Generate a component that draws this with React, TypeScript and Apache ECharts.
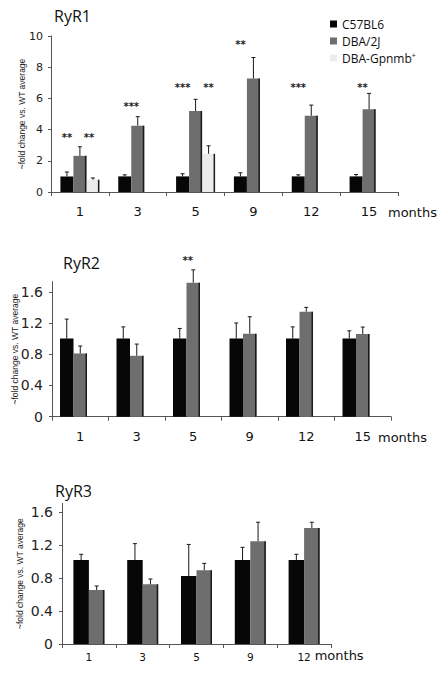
import React, { useEffect, useRef } from 'react';
import * as echarts from 'echarts';

const SERIES_NAMES = ['C57BL6', 'DBA/2J', 'DBA-Gpnmb+'];
const COLORS = ['#070707', '#6e6e6e', '#ececec'];

// ---------- RyR1 ----------
const ryr1Months = ['1', '3', '5', '9', '12', '15'];
const ryr1C57 = [1, 1, 1, 1, 1, 1];
const ryr1C57Err = [1.28, 1.1, 1.17, 1.23, 1.1, 1.12];
const ryr1DBA = [2.32, 4.25, 5.19, 7.28, 4.89, 5.3];
const ryr1DBAErr = [2.9, 4.83, 5.94, 8.62, 5.57, 6.32];
const ryr1Gp = [0.79, null, 2.45, null, null, null];
const ryr1GpErr = [0.9, null, 2.96, null, null, null];
const ryr1StarCats = [0, 0, 1, 2, 2, 3, 4, 5];
const ryr1StarSlots = [-1, 0.7, -0.5, -1, 1, -1, -1, -0.5];
const ryr1StarLevels = [3.5, 3.5, 5.45, 6.73, 6.73, 9.47, 6.73, 6.73];
const ryr1StarText = ['**', '**', '***', '***', '**', '**', '***', '**'];

// ---------- RyR2 ----------
const ryr2Months = ['1', '3', '5', '9', '12', '15'];
const ryr2C57 = [1, 1, 1, 1, 1, 1];
const ryr2C57Err = [1.25, 1.15, 1.13, 1.2, 1.15, 1.1];
const ryr2DBA = [0.81, 0.78, 1.716, 1.063, 1.344, 1.059];
const ryr2DBAErr = [0.905, 0.93, 1.88, 1.28, 1.4, 1.148];
const ryr2StarCats = [2];
const ryr2StarSlots = [-0.4];
const ryr2StarLevels = [2.0];
const ryr2StarText = ['**'];

// ---------- RyR3 ----------
const ryr3Months = ['1', '3', '5', '9', '12'];
const ryr3C57 = [1.02, 1.02, 0.826, 1.02, 1.02];
const ryr3C57Err = [1.09, 1.22, 1.21, 1.175, 1.09];
const ryr3DBA = [0.656, 0.725, 0.895, 1.25, 1.41];
const ryr3DBAErr = [0.705, 0.79, 0.98, 1.48, 1.48];

const TICK_FONT = 'DejaVu Sans, Verdana, sans-serif';
const TEXT_FONT = 'Open Sans, Noto Sans, sans-serif';
const AXIS_COLOR = '#555';

type Num = number | null;

function errData(vals: Num[][], errs: Num[][]) {
  const out: number[][] = [];
  vals.forEach((arr, s) => {
    arr.forEach((v, i) => {
      const e = errs[s][i];
      if (v != null && e != null) out.push([i, v, e, s]);
    });
  });
  return out;
}

function makeErrRender(barW: number, nSlots: number) {
  return (params: any, api: any) => {
    const cat = api.value(0);
    const val = api.value(1);
    const err = api.value(2);
    const slot = api.value(3);
    const base = api.coord([cat, 0]);
    const top = api.coord([cat, val]);
    const et = api.coord([cat, err]);
    const cx = base[0] + (slot - (nSlots - 1) / 2) * barW;
    const children: any[] = [
      {
        type: 'line',
        shape: { x1: cx, y1: top[1], x2: cx, y2: et[1] },
        style: { stroke: '#1a1a1a', lineWidth: 1 },
      },
      {
        type: 'line',
        shape: { x1: cx - 2, y1: et[1], x2: cx + 2, y2: et[1] },
        style: { stroke: '#1a1a1a', lineWidth: 1 },
      },
    ];
    if (slot > 0) {
      const ex = cx + barW / 2 - 0.75;
      children.push({
        type: 'line',
        shape: { x1: ex, y1: top[1], x2: ex, y2: base[1] },
        style: { stroke: '#1a1a1a', lineWidth: 1.5 },
      });
    }
    return { type: 'group', children };
  };
}

function makeStarRender(barW: number, texts: string[]) {
  return (params: any, api: any) => {
    const cat = api.value(0);
    const lvl = api.value(1);
    const slot = api.value(2);
    const p = api.coord([cat, lvl]);
    return {
      type: 'text',
      x: p[0] + slot * barW,
      y: p[1],
      style: {
        text: texts[params.dataIndex],
        fontSize: 10,
        fontWeight: 'bold',
        fontFamily: TICK_FONT,
        fill: '#222',
        align: 'center',
        verticalAlign: 'middle',
      },
    };
  };
}

function starData(cats: number[], levels: number[], slots: number[]) {
  return cats.map((c, i) => [c, levels[i], slots[i]]);
}

function dash(arr: Num[]) {
  return arr.map((v) => (v == null ? '-' : v));
}

export default function App() {
  const ref = useRef<HTMLDivElement>(null);

  useEffect(() => {
    if (!ref.current) return;
    const chart = echarts.init(ref.current, undefined, { renderer: 'svg' });

    const yAxisBase = (
      idx: number,
      max: number,
      interval: number,
      fontSize: number,
      margin: number,
      nameGap: number,
      showMax: boolean
    ) => ({
      type: 'value',
      gridIndex: idx,
      min: 0,
      max,
      interval,
      name: '~fold change vs. WT average',
      nameLocation: 'middle',
      nameRotate: 90,
      nameGap,
      nameMoveOverlap: false,
      nameTextStyle: {
        fontFamily: 'Liberation Sans, Arial, sans-serif',
        fontSize: 8.5,
        color: '#222',
      },
      axisLine: { show: true, lineStyle: { color: AXIS_COLOR, width: 1 } },
      axisTick: { show: true, length: 3, lineStyle: { color: AXIS_COLOR } },
      splitLine: { show: false },
      axisLabel: {
        fontFamily: TICK_FONT,
        fontSize,
        color: '#222',
        margin,
        showMaxLabel: showMax,
        formatter: (v: number) => (interval < 1 ? (v === 0 ? '0' : v.toFixed(1)) : String(v)),
      },
    });

    const xAxisBase = (
      idx: number,
      data: string[],
      fontSize: number,
      margin: number,
      nameGap: number,
      namePad: number,
      nameFont: number
    ) => ({
      type: 'category',
      gridIndex: idx,
      data,
      boundaryGap: true,
      axisLine: { show: true, lineStyle: { color: AXIS_COLOR, width: 1 } },
      axisTick: { show: true, length: 4, lineStyle: { color: AXIS_COLOR } },
      axisLabel: { fontFamily: TICK_FONT, fontSize, color: '#111', margin },
      name: 'months',
      nameLocation: 'end',
      nameGap,
      nameTextStyle: {
        fontFamily: TICK_FONT,
        fontSize: nameFont,
        color: '#111',
        align: 'left',
        verticalAlign: 'top',
        padding: [namePad, 0, 0, 0],
      },
    });

    const titleStyle = { fontFamily: TEXT_FONT, fontSize: 16, fontWeight: 'normal', color: '#111' };

    const option: any = {
      animation: false,
      backgroundColor: '#fff',
      title: [
        { text: 'RyR1', left: 54, top: 8, padding: 0, textStyle: titleStyle },
        { text: 'RyR2', left: 63, top: 255, padding: 0, textStyle: titleStyle },
        { text: 'RyR3', left: 55, top: 483, padding: 0, textStyle: titleStyle },
      ],
      legend: {
        orient: 'vertical',
        left: 330,
        top: 18,
        padding: 0,
        itemWidth: 7,
        itemHeight: 7,
        itemGap: 5,
        icon: 'rect',
        data: SERIES_NAMES,
        formatter: (n: string) => (n === 'DBA-Gpnmb+' ? '{a|DBA-Gpnmb}{s|+}' : '{a|' + n + '}'),
        textStyle: {
          rich: {
            a: { fontFamily: TEXT_FONT, fontSize: 12, color: '#111', lineHeight: 12 },
            s: { fontFamily: TEXT_FONT, fontSize: 7, color: '#111', verticalAlign: 'top', lineHeight: 12, padding: [0, 0, 4, 0] },
          },
        },
      },
      grid: [
        { left: 51, right: 48, top: 36, bottom: 481, outerBoundsMode: 'none' },
        { left: 52, right: 55, top: 281.6, bottom: 256.3, outerBoundsMode: 'none' },
        { left: 62, right: 115, top: 503.3, bottom: 29, outerBoundsMode: 'none' },
      ],
      xAxis: [
        xAxisBase(0, ryr1Months, 13, 13, -10, 14, 13),
        xAxisBase(1, ryr2Months, 13, 13, -13, 14, 13),
        xAxisBase(2, ryr3Months, 10.5, 7, -24, 5, 13),
      ],
      yAxis: [
        yAxisBase(0, 10, 2, 11, 8, 25, true),
        yAxisBase(1, 1.73, 0.4, 14, 9, 33, false),
        yAxisBase(2, 1.71, 0.4, 14, 9, 38, false),
      ],
      series: [
        // RyR1 bars
        { type: 'bar', name: SERIES_NAMES[0], xAxisIndex: 0, yAxisIndex: 0, data: ryr1C57, barWidth: 13, barGap: '0%', itemStyle: { color: COLORS[0] } },
        { type: 'bar', name: SERIES_NAMES[1], xAxisIndex: 0, yAxisIndex: 0, data: ryr1DBA, barWidth: 13, barGap: '0%', itemStyle: { color: COLORS[1] } },
        { type: 'bar', name: SERIES_NAMES[2], xAxisIndex: 0, yAxisIndex: 0, data: dash(ryr1Gp), barWidth: 13, barGap: '0%', itemStyle: { color: COLORS[2] } },
        {
          type: 'custom',
          xAxisIndex: 0,
          yAxisIndex: 0,
          data: errData([ryr1C57, ryr1DBA, ryr1Gp], [ryr1C57Err, ryr1DBAErr, ryr1GpErr]),
          renderItem: makeErrRender(13, 3),
          silent: true,
          z: 3,
        },
        {
          type: 'custom',
          xAxisIndex: 0,
          yAxisIndex: 0,
          data: starData(ryr1StarCats, ryr1StarLevels, ryr1StarSlots),
          renderItem: makeStarRender(13, ryr1StarText),
          silent: true,
          z: 3,
        },
        // RyR2 bars
        { type: 'bar', name: SERIES_NAMES[0], xAxisIndex: 1, yAxisIndex: 1, data: ryr2C57, barWidth: 13.5, barGap: '0%', itemStyle: { color: COLORS[0] } },
        { type: 'bar', name: SERIES_NAMES[1], xAxisIndex: 1, yAxisIndex: 1, data: ryr2DBA, barWidth: 13.5, barGap: '0%', itemStyle: { color: COLORS[1] } },
        { type: 'bar', name: SERIES_NAMES[2], xAxisIndex: 1, yAxisIndex: 1, data: ryr2Months.map(() => '-'), barWidth: 13.5, barGap: '0%', itemStyle: { color: COLORS[2] } },
        {
          type: 'custom',
          xAxisIndex: 1,
          yAxisIndex: 1,
          data: errData([ryr2C57, ryr2DBA], [ryr2C57Err, ryr2DBAErr]),
          renderItem: makeErrRender(13.5, 3),
          silent: true,
          z: 3,
        },
        {
          type: 'custom',
          xAxisIndex: 1,
          yAxisIndex: 1,
          data: starData(ryr2StarCats, ryr2StarLevels, ryr2StarSlots),
          renderItem: makeStarRender(13.5, ryr2StarText),
          silent: true,
          z: 3,
        },
        // RyR3 bars
        { type: 'bar', name: SERIES_NAMES[0], xAxisIndex: 2, yAxisIndex: 2, data: ryr3C57, barWidth: 15.5, barGap: '0%', itemStyle: { color: COLORS[0] } },
        { type: 'bar', name: SERIES_NAMES[1], xAxisIndex: 2, yAxisIndex: 2, data: ryr3DBA, barWidth: 15.5, barGap: '0%', itemStyle: { color: COLORS[1] } },
        {
          type: 'custom',
          xAxisIndex: 2,
          yAxisIndex: 2,
          data: errData([ryr3C57, ryr3DBA], [ryr3C57Err, ryr3DBAErr]),
          renderItem: makeErrRender(15.5, 2),
          silent: true,
          z: 3,
        },
      ],
    };

    chart.setOption(option);
    return () => chart.dispose();
  }, []);

  return (
    <div
      ref={ref}
      style={{ position: 'fixed', left: 0, top: 0, width: 446, height: 673, background: '#fff' }}
    />
  );
}
